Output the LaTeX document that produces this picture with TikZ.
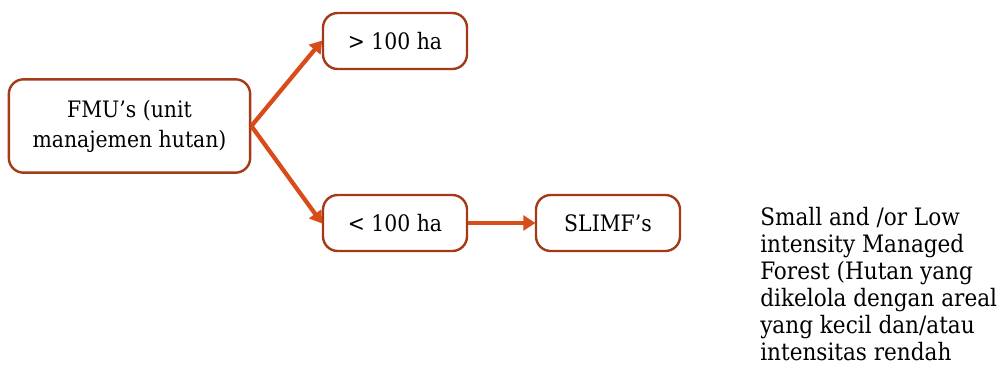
\documentclass[tikz,border=0pt]{standalone}
\usepackage{fontspec}
\setmainfont{DejaVu Serif Condensed}
\usetikzlibrary{arrows.meta}
\definecolor{boxline}{RGB}{163,58,24}
\definecolor{arrowcol}{RGB}{216,76,26}
\tikzset{
  unitbox/.style={draw=boxline, line width=1.8pt, rounded corners=11pt, fill=white,
    align=center, inner sep=0pt, font=\fontsize{17}{22.5}\selectfont},
  flow/.style={draw=arrowcol, line width=3.2pt,
    -{Triangle[length=9pt, width=11pt]}, shorten >=-0.5pt},
}
\begin{document}
\begin{tikzpicture}[x=0.75pt, y=-0.75pt]
  \useasboundingbox (0,0) rectangle (1003,369);
  \node[unitbox, minimum width=181pt, minimum height=70pt] (fmu) at (129.5,126)
    {FMU’s (unit\\manajemen hutan)};
  \node[unitbox, minimum width=108pt, minimum height=42pt] (big) at (395,41) {> 100 ha};
  \node[unitbox, minimum width=108pt, minimum height=42pt] (small) at (395,223) {< 100 ha};
  \node[unitbox, minimum width=108pt, minimum height=42pt] (slimf) at (608,223) {SLIMF’s};
  \draw[flow] (fmu.east) -- (big.west);
  \draw[flow] (fmu.east) -- (small.west);
  \draw[flow] (small.east) -- (slimf.west);
  \node[anchor=north west, align=left, inner sep=0pt,
    font=\fontsize{18}{20.25}\selectfont] (note) at (760,207)
    {Small and /or Low\\intensity Managed\\Forest (Hutan yang\\dikelola dengan areal\\yang kecil dan/atau\\intensitas rendah};
\end{tikzpicture}
\end{document}
